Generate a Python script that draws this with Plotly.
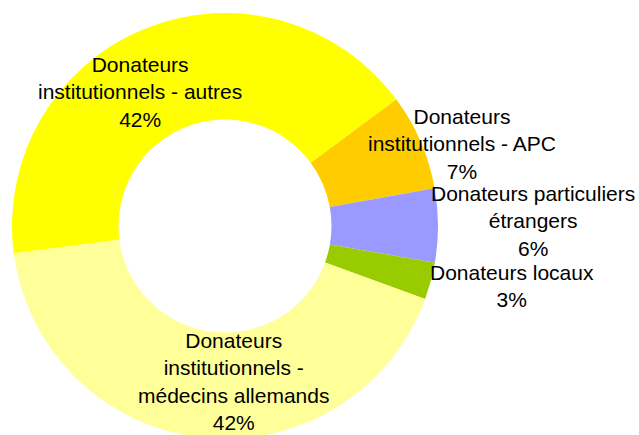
import plotly.graph_objects as go

# Data
labels = [
    "Donateurs institutionnels - APC",
    "Donateurs particuliers étrangers",
    "Donateurs locaux",
    "Donateurs institutionnels - médecins allemands",
    "Donateurs institutionnels - autres",
]
label_lines = [
    "Donateurs<br>institutionnels - APC",
    "Donateurs particuliers<br>étrangers",
    "Donateurs locaux",
    "Donateurs<br>institutionnels -<br>médecins allemands",
    "Donateurs<br>institutionnels - autres",
]
values = [7.3, 5.6, 2.8, 42.4, 41.9]
colors = ["#FFCC00", "#9999FF", "#99CC00", "#FFFF99", "#FFFF00"]

# Label block centres in pixels (layout only)
label_pos = [(462, 144.5), (533, 221), (512, 286), (233, 381), (140, 92)]

W, H = 639, 443  # bottom 8px fall outside the 435px window, as in the reference
total = sum(values)

fig = go.Figure(go.Pie(
    labels=labels,
    values=values,
    sort=False,
    direction="clockwise",
    rotation=53.5,
    hole=0.5,
    marker=dict(colors=colors, line=dict(width=0)),
    textinfo="none",
    hoverinfo="label+percent",
    showlegend=False,
    domain=dict(x=[12 / W, 438 / W], y=[4 / H, 430 / H]),
))

for txt, v, (px, py) in zip(label_lines, values, label_pos):
    pct = round(v / total * 100)
    fig.add_annotation(
        x=px / W, y=1 - py / H, xref="paper", yref="paper",
        text=f"{txt}<br>{pct}%", showarrow=False,
        xanchor="center", yanchor="middle", align="center",
        font=dict(family="Liberation Sans, Arial, sans-serif", size=21, color="#000000"),
    )

fig.update_layout(
    width=W, height=H,
    margin=dict(l=0, r=0, t=0, b=0),
    paper_bgcolor="white",
    plot_bgcolor="white",
)

fig.write_html(
    "out.html",
    config={"displayModeBar": False},
    post_script="document.body.style.margin='0';document.body.style.overflow='hidden';",
)
